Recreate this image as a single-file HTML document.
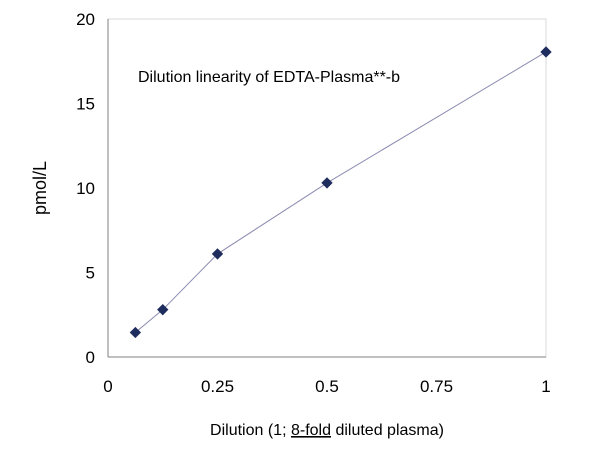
<!DOCTYPE html>
<html><head><meta charset="utf-8"><style>
body{margin:0;background:#fff;}
svg{font-family:"Liberation Sans",Arial,sans-serif;}
</style></head><body>
<svg width="600" height="450">
<rect x="108" y="19" width="438" height="338" fill="none" stroke="#d8d8d8" stroke-width="1"/>
<line x1="108" y1="19" x2="108" y2="357" stroke="#808080"/>
<line x1="108" y1="357" x2="546" y2="357" stroke="#808080"/>
<g id="yt" font-size="17" text-anchor="end"></g>
<g id="xt" font-size="17" text-anchor="middle"></g>
<polyline id="ln" fill="none" stroke="#8a8ab0" stroke-width="1"/>
<g id="pts"></g>
<text x="138" y="82" font-size="16">Dilution linearity of EDTA-Plasma**-b</text>
<text transform="translate(46,188) rotate(-90)" font-size="18" text-anchor="middle">pmol/L</text>
<text x="327" y="435" font-size="16" text-anchor="middle">Dilution (1; <tspan text-decoration="underline">8-fold</tspan> diluted plasma)</text>
</svg>
<script>
const xVals=[0.0625,0.125,0.25,0.5,1];
const yVals=[1.45,2.8,6.1,10.3,18.05];
const yTicks=[0,5,10,15,20];
const xTicks=[0,0.25,0.5,0.75,1];
const xTickLabels=["0","0.25","0.5","0.75","1"];
const NS="http://www.w3.org/2000/svg";
const sx=v=>108+v*438, sy=v=>357-v*338/20;
const yt=document.getElementById('yt');
yTicks.forEach(t=>{const e=document.createElementNS(NS,'text');e.setAttribute('x',95);e.setAttribute('y',sy(t)+6);e.textContent=t;


yt.appendChild(e);});
const xt=document.getElementById('xt');
xTicks.forEach((t,i)=>{const e=document.createElementNS(NS,'text');e.setAttribute('x',sx(t));e.setAttribute('y',392);e.textContent=xTickLabels[i];


xt.appendChild(e);});
document.getElementById('ln').setAttribute('points',xVals.map((x,i)=>sx(x)+','+sy(yVals[i])).join(' '));
const pts=document.getElementById('pts');
xVals.forEach((x,i)=>{const p=document.createElementNS(NS,'rect');const cx=sx(x),cy=sy(yVals[i]);
p.setAttribute('x',cx-4);p.setAttribute('y',cy-4);p.setAttribute('width',8);p.setAttribute('height',8);p.setAttribute('fill','#1f2d5e');p.setAttribute('transform',`rotate(45 ${cx} ${cy})`);


pts.appendChild(p);});
</script>
</body></html>
